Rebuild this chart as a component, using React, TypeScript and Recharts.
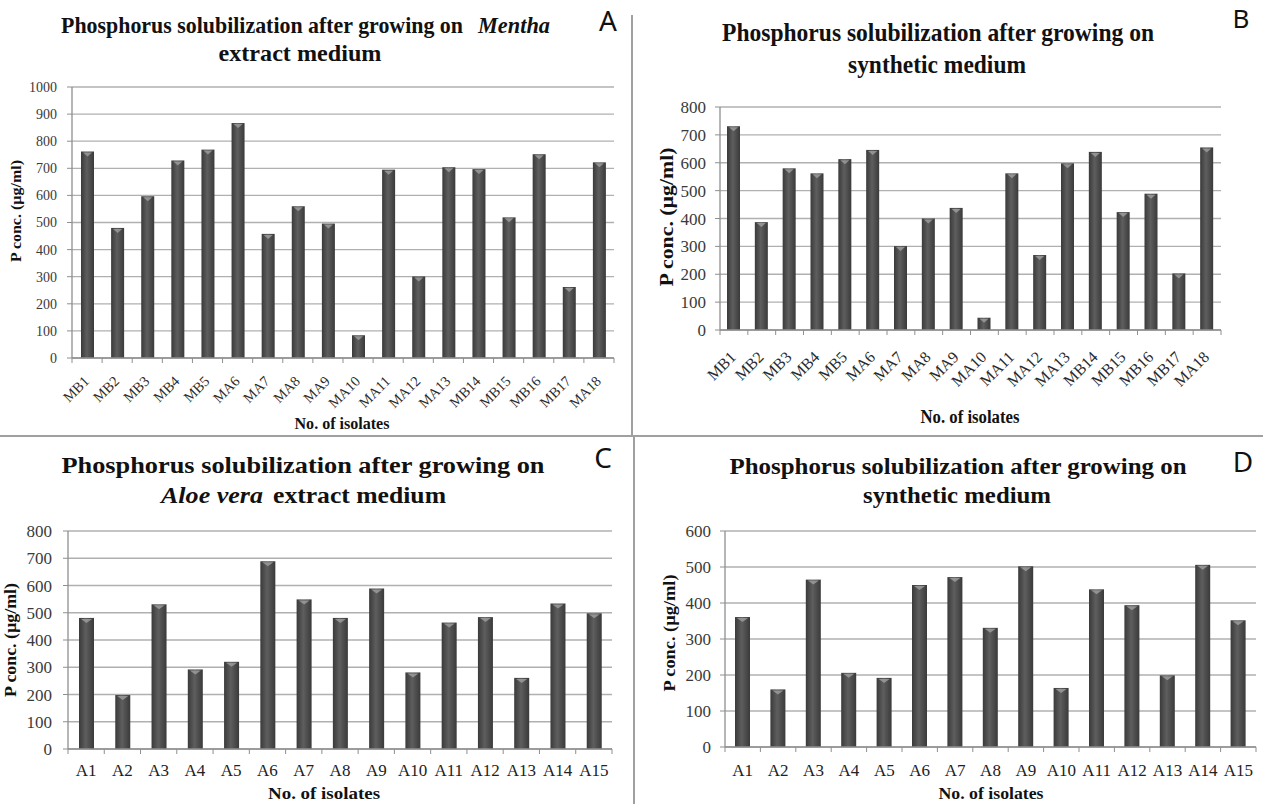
import { BarChart, Bar, XAxis, YAxis, CartesianGrid } from "recharts";

// isolate names
const mIsolates = ["MB1", "MB2", "MB3", "MB4", "MB5", "MA6", "MA7", "MA8", "MA9", "MA10", "MA11", "MA12", "MA13", "MB14", "MB15", "MB16", "MB17", "MA18"];
const aIsolates = ["A1", "A2", "A3", "A4", "A5", "A6", "A7", "A8", "A9", "A10", "A11", "A12", "A13", "A14", "A15"];

// P conc. (µg/ml)
const menthaExtract = [762, 480, 597, 729, 769, 867, 458, 560, 496, 84, 695, 301, 704, 697, 519, 752, 262, 722];
const menthaSynthetic = [731, 387, 580, 562, 613, 646, 301, 400, 438, 44, 562, 269, 598, 639, 423, 489, 203, 655];
const aloeExtract = [481, 198, 531, 292, 320, 689, 549, 481, 589, 281, 464, 484, 261, 534, 498];
const aloeSynthetic = [361, 160, 465, 206, 192, 450, 472, 331, 502, 164, 438, 394, 199, 506, 352];

const ticks1000 = [0, 100, 200, 300, 400, 500, 600, 700, 800, 900, 1000];
const ticks800 = [0, 100, 200, 300, 400, 500, 600, 700, 800];
const ticks600 = [0, 100, 200, 300, 400, 500, 600];

const SERIF = "'Liberation Serif', 'DejaVu Serif', serif";
const SANS = "'Noto Sans', 'Open Sans', sans-serif";

interface PanelSpec {
  id: string;
  categories: string[];
  values: number[];
  yTicks: number[];
  chartLeft: number; chartTop: number; chartRight: number; chartBottom: number;
  plotLeft: number; plotTop: number; plotRight: number; plotBottom: number;
  barWidth: number;
  tickFont: number;
  tickMargin: number;
  catFont: number;
  catRotate: number; // 0 = horizontal
  catDx: number; catDy: number;
}

function BarShape(props: any) {
  const { x, y, width, height, gradId } = props;
  if (!height || height <= 0) return null;
  const inset = Math.min(2, width / 6);
  return (
    <g>
      <rect x={x} y={y} width={width} height={height} fill={`url(#${gradId})`} />
      <polygon
        points={`${x + inset},${y + 1} ${x + width - inset},${y + 1} ${x + width / 2},${y + 5}`}
        fill="#a0a0a0"
        opacity={0.8}
      />
    </g>
  );
}

function Panel({ p }: { p: PanelSpec }) {
  const data = p.categories.map((name, i) => ({ name, value: p.values[i] }));
  const band = (p.plotRight - p.plotLeft) / p.categories.length;
  const last = p.categories.length - 1;
  const gradId = `barGrad-${p.id}`;

  const renderXTick = (props: any) => {
    const { x, y, payload, index } = props;
    const tx = x + p.catDx;
    const ty = y + p.catDy;
    return (
      <g>
        <line x1={x - band / 2} x2={x - band / 2} y1={y} y2={y + 5} stroke="#8f8f8f" />
        {index === last && <line x1={x + band / 2} x2={x + band / 2} y1={y} y2={y + 5} stroke="#8f8f8f" />}
        {p.catRotate ? (
          <text x={tx} y={ty} textAnchor="end" fontFamily={SERIF} fontSize={p.catFont} fill="#2a2a2a"
            transform={`rotate(${p.catRotate}, ${tx}, ${ty})`}>
            {payload.value}
          </text>
        ) : (
          <text x={tx} y={ty} textAnchor="middle" fontFamily={SERIF} fontSize={p.catFont} fill="#222">
            {payload.value}
          </text>
        )}
      </g>
    );
  };

  return (
    <div style={{ position: "absolute", left: p.chartLeft, top: p.chartTop }}>
      <BarChart
        width={p.chartRight - p.chartLeft}
        height={p.chartBottom - p.chartTop}
        data={data}
        margin={{ top: p.plotTop - p.chartTop, right: p.chartRight - p.plotRight, bottom: 0, left: 0 }}
      >
        <defs>
          <linearGradient id={gradId} x1="0" y1="0" x2="1" y2="0">
            <stop offset="0%" stopColor="#3a3a3a" />
            <stop offset="45%" stopColor="#5e5e5e" />
            <stop offset="100%" stopColor="#3a3a3a" />
          </linearGradient>
        </defs>
        <CartesianGrid vertical={false} stroke="#b0b0b0" strokeWidth={1.3} />
        <XAxis
          dataKey="name"
          height={p.chartBottom - p.plotBottom}
          interval={0}
          tickLine={false}
          tickSize={0}
          tickMargin={0}
          axisLine={{ stroke: "#8f8f8f", strokeWidth: 1.3 }}
          tick={renderXTick}
        />
        <YAxis
          width={p.plotLeft - p.chartLeft}
          domain={[0, p.yTicks[p.yTicks.length - 1]]}
          ticks={p.yTicks}
          interval={0}
          tickSize={5}
          tickMargin={p.tickMargin}
          axisLine={{ stroke: "#8f8f8f", strokeWidth: 1.3 }}
          tickLine={{ stroke: "#8f8f8f" }}
          tick={{ fontFamily: SERIF, fontSize: p.tickFont, fill: "#3a3a3a" }}
        />
        <Bar dataKey="value" barSize={p.barWidth} isAnimationActive={false}
          shape={(props: any) => <BarShape {...props} gradId={gradId} />} />
      </BarChart>
    </div>
  );
}

const panelA: PanelSpec = {
  id: "a", categories: mIsolates, values: menthaExtract, yTicks: ticks1000,
  chartLeft: 0, chartTop: 77, chartRight: 630, chartBottom: 434,
  plotLeft: 72, plotTop: 87, plotRight: 614, plotBottom: 358,
  barWidth: 13, tickFont: 14, tickMargin: 10, catFont: 14.5, catRotate: -45, catDx: 3, catDy: 24,
};
const panelB: PanelSpec = {
  id: "b", categories: mIsolates, values: menthaSynthetic, yTicks: ticks800,
  chartLeft: 640, chartTop: 97, chartRight: 1240, chartBottom: 434,
  plotLeft: 720, plotTop: 107, plotRight: 1221, plotBottom: 330,
  barWidth: 13, tickFont: 17, tickMargin: 9, catFont: 16, catRotate: -45, catDx: 3, catDy: 28,
};
const panelC: PanelSpec = {
  id: "c", categories: aIsolates, values: aloeExtract, yTicks: ticks800,
  chartLeft: 0, chartTop: 521, chartRight: 630, chartBottom: 804,
  plotLeft: 68, plotTop: 531, plotRight: 612, plotBottom: 749,
  barWidth: 15, tickFont: 17, tickMargin: 11, catFont: 17, catRotate: 0, catDx: 0, catDy: 27,
};
const panelD: PanelSpec = {
  id: "d", categories: aIsolates, values: aloeSynthetic, yTicks: ticks600,
  chartLeft: 640, chartTop: 521, chartRight: 1263, chartBottom: 804,
  plotLeft: 725, plotTop: 531, plotRight: 1256, plotBottom: 747,
  barWidth: 15, tickFont: 17, tickMargin: 9, catFont: 17, catRotate: 0, catDx: 0, catDy: 29,
};

// text drawn in one overlay; textLength pins each line to the width seen in the figure
function T({ x, y, size, len, children, bold = true, italic = false, font = SERIF, rotate = false, anchor = "middle" }: any) {
  return (
    <text
      x={x}
      y={y}
      fontFamily={font}
      fontSize={size}
      fontWeight={bold ? "bold" : "normal"}
      fontStyle={italic ? "italic" : "normal"}
      fill="#111"
      textAnchor={anchor}
      dominantBaseline={rotate ? "central" : undefined}
      textLength={len}
      lengthAdjust={len ? "spacingAndGlyphs" : undefined}
      transform={rotate ? `rotate(-90, ${x}, ${y})` : undefined}
    >
      {children}
    </text>
  );
}

export default function App() {
  return (
    <div style={{ position: "absolute", left: 0, top: 0, width: 1263, height: 804, background: "#fff", overflow: "hidden" }}>
      {/* separators */}
      <div style={{ position: "absolute", left: 631, top: 15, width: 2, height: 421, background: "#a0a0a0" }} />
      <div style={{ position: "absolute", left: 633, top: 436, width: 2, height: 368, background: "#a0a0a0" }} />
      <div style={{ position: "absolute", left: 0, top: 435, width: 1263, height: 2, background: "#a0a0a0" }} />

      <Panel p={panelA} />
      <Panel p={panelB} />
      <Panel p={panelC} />
      <Panel p={panelD} />

      <svg width={1263} height={804} style={{ position: "absolute", left: 0, top: 0, pointerEvents: "none" }}>
        {/* panel A */}
        <T x={61} y={33} size={23} len={402} anchor="start">Phosphorus solubilization after growing on</T>
        <T x={478} y={33} size={23} len={72} anchor="start" italic>Mentha</T>
        <T x={300} y={61} size={23} len={163}>extract medium</T>
        <T x={16} y={211} size={15} len={102} rotate>P conc.  (µg/ml)</T>
        <T x={342} y={429} size={16} len={95}>No. of isolates</T>
        <T x={608} y={31} size={28} bold={false} font={SANS}>A</T>

        {/* panel B */}
        <T x={938} y={41} size={25} len={432}>Phosphorus  solubilization  after  growing  on</T>
        <T x={937} y={73} size={25} len={178}>synthetic medium</T>
        <T x={666} y={217} size={19} len={139} rotate>P conc. (µg/ml)</T>
        <T x={970} y={423} size={18} len={99}>No. of isolates</T>
        <T x={1241} y={28} size={26} bold={false} font={SANS}>B</T>

        {/* panel C */}
        <T x={303} y={473} size={24} len={483}>Phosphorus solubilization  after growing on</T>
        <T x={161} y={503} size={24} len={102} anchor="start" italic>Aloe vera</T>
        <T x={273} y={503} size={24} len={173} anchor="start">extract medium</T>
        <T x={10} y={640} size={16} len={114} rotate>P conc.  (µg/ml)</T>
        <T x={324} y={799} size={16} len={112}>No. of isolates</T>
        <T x={603} y={468} size={28} bold={false} font={SANS}>C</T>

        {/* panel D */}
        <T x={958} y={474} size={24} len={457}>Phosphorus  solubilization  after  growing  on</T>
        <T x={957} y={503} size={24} len={188}>synthetic medium</T>
        <T x={669} y={633} size={17} len={117} rotate>P conc. (µg/ml)</T>
        <T x={991} y={799} size={16} len={105}>No. of isolates</T>
        <T x={1243} y={472} size={28} bold={false} font={SANS}>D</T>
      </svg>
    </div>
  );
}
